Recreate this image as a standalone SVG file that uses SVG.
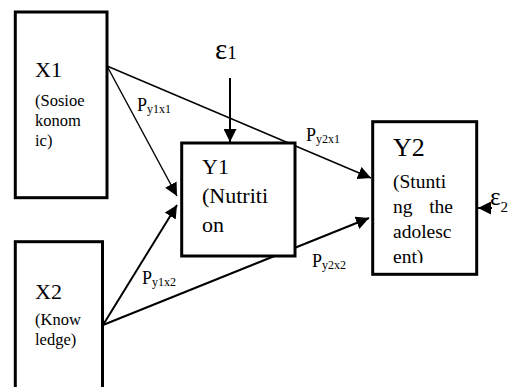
<svg xmlns="http://www.w3.org/2000/svg" width="511" height="387" viewBox="0 0 511 387">
<style>
.box{fill:#fff;stroke:#000;stroke-width:3}
.t{font-family:"Liberation Serif","Times New Roman",serif;fill:#000}
.big{font-size:22px}
.sm{font-size:16.5px}
.lab{font-size:18px}
.sub{font-size:12px}
.eps{font-size:29px}
.con{stroke:#000;fill:none}
</style>
<defs>
<marker id="ah" markerUnits="userSpaceOnUse" markerWidth="13" markerHeight="13" refX="12" refY="6" orient="auto" viewBox="0 0 12 12">
<path d="M0,0 L12,6 L0,12 Z" fill="#000"/>
</marker>
<clipPath id="y2clip"><rect x="374" y="123" width="101" height="140"/></clipPath>
</defs>
<rect width="511" height="387" fill="#fff"/>
<g id="connectors">
<line class="con" x1="107" y1="66" x2="177" y2="196" stroke-width="1.4" marker-end="url(#ah)"/>
<line class="con" x1="107" y1="66" x2="371" y2="178" stroke-width="1.4" marker-end="url(#ah)"/>
<line class="con" x1="103" y1="325" x2="177" y2="205" stroke-width="2" marker-end="url(#ah)"/>
<line class="con" x1="103" y1="325" x2="369" y2="218" stroke-width="2" marker-end="url(#ah)"/>
<line class="con" x1="230" y1="78" x2="230" y2="142" stroke-width="2" marker-end="url(#ah)"/>
<line class="con" x1="492" y1="208" x2="478" y2="208" stroke-width="2" marker-end="url(#ah)"/>
</g>
<g id="X1">
<rect class="box" x="15.3" y="12" width="91.7" height="185.7"/>
<text class="t big" x="35" y="77">X1</text>
<text class="t sm" x="35" y="106">(Sosioe</text>
<text class="t sm" x="35" y="126">konom</text>
<text class="t sm" x="35" y="146">ic)</text>
</g>
<g id="X2">
<rect class="box" x="15.3" y="241.7" width="87.2" height="160"/>
<text class="t big" x="35" y="299">X2</text>
<text class="t sm" x="35" y="325">(Know</text>
<text class="t sm" x="35" y="345">ledge)</text>
</g>
<g id="Y1">
<rect class="box" x="181.7" y="143" width="113.3" height="113"/>
<text class="t big" x="202" y="174">Y1</text>
<text class="t big" x="202" y="203">(Nutriti</text>
<text class="t big" x="202" y="232">on</text>
</g>
<g id="Y2">
<rect class="box" x="372.7" y="121.7" width="104" height="152.6"/>
<text class="t" x="393" y="156" font-size="26">Y2</text>
<g clip-path="url(#y2clip)" class="t" font-size="19.5">
<text x="393" y="188">(Stunti</text>
<text x="393" y="213">ng</text>
<text x="453" y="213" text-anchor="end">the</text>
<text x="393" y="238">adolesc</text>
<text x="393" y="263">ent)</text>
</g>
</g>
<g id="labels">
<text class="t lab" x="137" y="111">P<tspan class="sub" dy="2">y1x1</tspan></text>
<text class="t lab" x="306" y="141">P<tspan class="sub" dy="2">y2x1</tspan></text>
<text class="t lab" x="142" y="284">P<tspan class="sub" dy="2">y1x2</tspan></text>
<text class="t lab" x="312" y="267">P<tspan class="sub" dy="2">y2x2</tspan></text>
<text class="t" x="215" y="59"><tspan class="eps">ε</tspan><tspan font-size="19">1</tspan></text>
<text class="t" x="490" y="205"><tspan font-size="25">ε</tspan><tspan font-size="15" dy="7">2</tspan></text>
</g>
</svg>
